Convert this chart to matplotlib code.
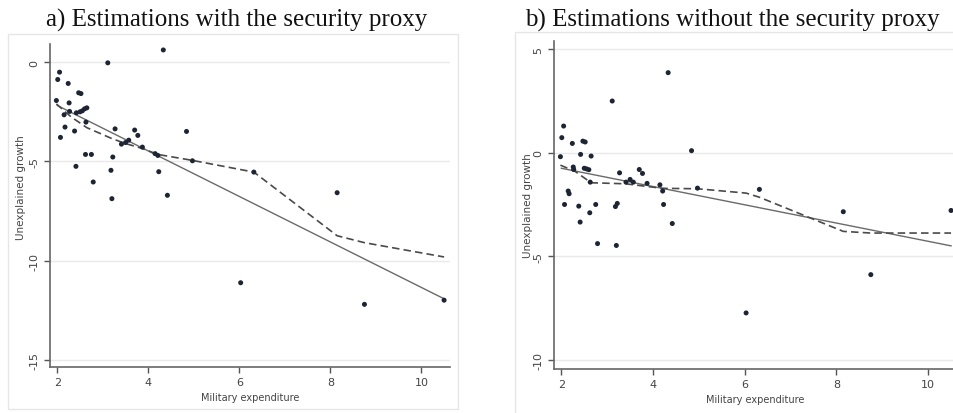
import matplotlib
matplotlib.use("Agg")
import matplotlib.pyplot as plt
from matplotlib.patches import Rectangle

plt.rcParams["axes.unicode_minus"] = False

# Military expenditure (shared by both panels)
military = [1.98, 2.01, 2.05, 2.07, 2.15, 2.17, 2.24, 2.26, 2.27, 2.38,
            2.41, 2.42, 2.47, 2.50, 2.52, 2.55, 2.60, 2.63, 2.62, 2.65,
            2.75, 2.79, 3.11, 3.18, 3.20, 3.22, 3.27, 3.41, 3.50, 3.57,
            3.70, 3.77, 3.87, 4.15, 4.21, 4.23, 4.33, 4.42, 4.84, 4.97,
            6.03, 6.32, 8.15, 8.75, 10.50]

# Unexplained growth, estimation with the security proxy
growth_a = [-1.93, -0.87, -0.50, -3.79, -2.65, -3.27, -1.07, -2.05, -2.48, -3.47,
            -5.25, -2.55, -1.54, -2.50, -1.58, -2.45, -2.35, -3.02, -4.65, -2.30,
            -4.65, -6.04, -0.03, -5.45, -6.88, -4.78, -3.36, -4.13, -4.05, -3.93,
            -3.42, -3.69, -4.28, -4.61, -4.70, -5.52, 0.62, -6.71, -3.49, -4.97,
            -11.12, -5.54, -6.58, -12.21, -12.00]

# Unexplained growth, estimation without the security proxy
growth_b = [-0.19, 0.73, 1.29, -2.50, -1.85, -1.98, 0.45, -0.69, -0.81, -2.58,
            -3.35, -0.08, 0.56, -0.75, 0.52, -0.78, -0.82, -1.42, -2.90, -0.16,
            -2.50, -4.39, 2.50, -2.60, -4.48, -2.45, -0.97, -1.42, -1.29, -1.42,
            -0.81, -1.00, -1.48, -1.55, -1.85, -2.50, 3.87, -3.42, 0.10, -1.71,
            -7.74, -1.77, -2.85, -5.89, -2.79]

# Linear fits (end points)
lin_x = [2.0, 10.5]
lin_a = [-2.18, -11.93]
lin_b = [-0.75, -4.50]

# Nonparametric fits
smooth_x_a = [1.98, 2.30, 2.65, 3.20, 3.50, 3.87, 4.21, 4.97, 6.32, 8.15, 8.75, 10.50]
smooth_a = [-2.10, -2.75, -3.30, -3.85, -4.10, -4.35, -4.65, -4.95, -5.54, -8.75, -9.10, -9.82]
smooth_x_b = [1.98, 2.30, 2.65, 3.40, 4.21, 4.97, 6.03, 6.32, 8.15, 8.75, 10.50]
smooth_b = [-0.60, -0.90, -1.45, -1.50, -1.72, -1.74, -1.95, -2.15, -3.80, -3.88, -3.88]

titles = ["a) Estimations with the security proxy",
          "b) Estimations without the security proxy"]
xticks = [2, 4, 6, 8, 10]
yticks_a = [0, -5, -10, -15]
yticks_b = [5, 0, -5, -10]

W, H = 954, 414
fig = plt.figure(figsize=(W / 100, H / 100), dpi=100)
fig.patch.set_facecolor("white")


def px_axes(left, top, right, bottom):
    return fig.add_axes([left / W, 1 - bottom / H, (right - left) / W, (bottom - top) / H])


# light outer frames of the two graph regions
for (l, t, r, b) in [(8, 35, 458, 410), (515, 33, 960, 416)]:
    fig.patches.append(Rectangle((l / W, 1 - b / H), (r - l) / W, (b - t) / H,
                                 transform=fig.transFigure, fill=False,
                                 edgecolor="#e6e6e6", linewidth=1.0))

ax_a = px_axes(50, 45, 450, 368)
ax_b = px_axes(554, 42, 957, 370)

panels = [
    (ax_a, growth_a, lin_a, smooth_x_a, smooth_a, yticks_a, (-15.37, 0.92)),
    (ax_b, growth_b, lin_b, smooth_x_b, smooth_b, yticks_b, (-10.45, 5.40)),
]

for i, (ax, gy, ly, sx, sy, yt, ylim) in enumerate(panels):
    ax.set_xlim(1.84, 10.63)
    ax.set_ylim(*ylim)
    for v in yt:
        ax.axhline(v, color="#e9e9e9", linewidth=1.0, zorder=0)
    ax.scatter(military, gy, s=13, color="#1d2433", edgecolors="none", zorder=3)
    ax.plot(lin_x, ly, color="#6a6a6a", linewidth=1.0, zorder=2)
    ax.plot(sx, sy, color="#4a4a4a", linewidth=1.2, dashes=(4.5, 2.5), zorder=2)

    ax.set_xticks(xticks)
    ax.set_yticks(yt)
    ax.set_yticklabels([str(v) for v in yt], rotation=90, va="center")
    ax.tick_params(axis="both", colors="#555555", labelcolor="#444444",
                   labelsize=8, length=4, width=1.0)
    for s in ["top", "right"]:
        ax.spines[s].set_visible(False)
    for s in ["left", "bottom"]:
        ax.spines[s].set_color("#666666")
        ax.spines[s].set_linewidth(1.2)

    ax.set_xlabel("Military expenditure", fontsize=7, color="#444444", labelpad=3)
    ax.set_ylabel("Unexplained growth", fontsize=7.5, color="#444444", labelpad=4)

ax_a.yaxis.set_label_coords(-0.06, 0.557)
ax_b.yaxis.set_label_coords(-0.053, 0.5)

fig.text(237 / W, 1 - 20 / H, titles[0], family="Liberation Serif", fontsize=18,
         ha="center", va="center", color="#111111")
fig.text(732 / W, 1 - 20 / H, titles[1], family="Liberation Serif", fontsize=18,
         ha="center", va="center", color="#111111")

fig.savefig("out.png", dpi=100, facecolor="white")
